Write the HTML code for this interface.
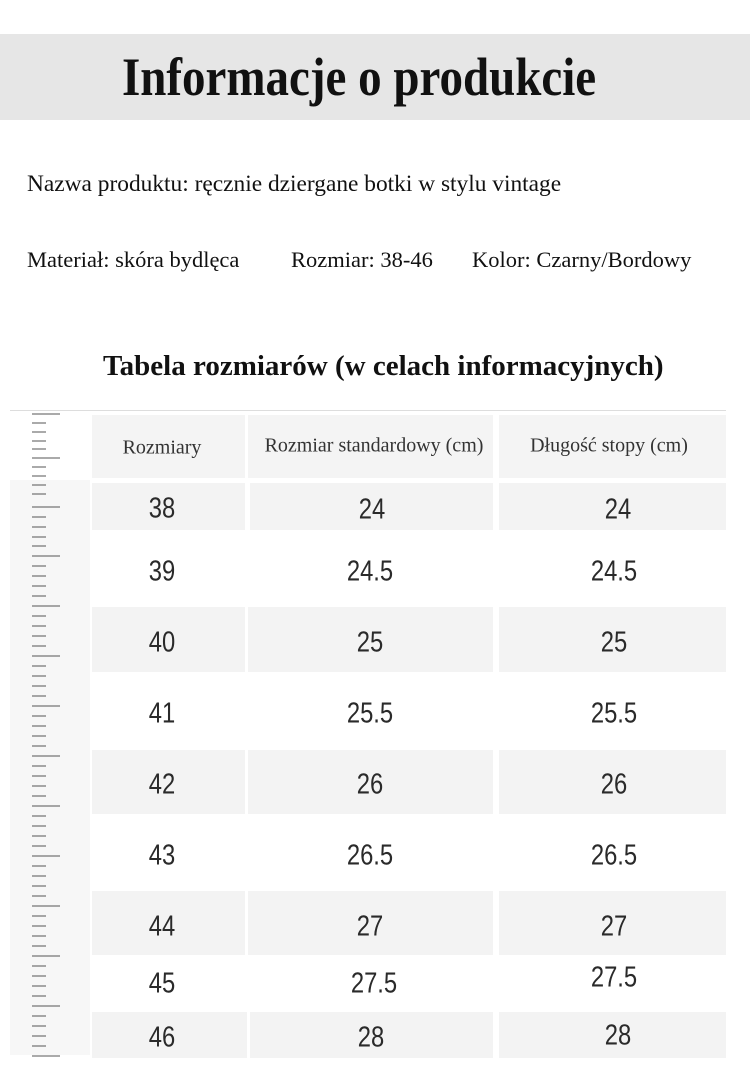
<!DOCTYPE html>
<html><head><meta charset="utf-8"><style>
body{margin:0;width:750px;height:1080px;background:#fff;position:relative;overflow:hidden;font-family:"Liberation Serif",serif;color:#111}
.a{position:absolute;white-space:nowrap}
.band{position:absolute;left:0;top:34px;width:750px;height:86px;background:#e6e6e6}
.cell{position:absolute;background:#f3f3f3}
.n{position:absolute;font-family:"Liberation Sans Narrow","Liberation Sans",sans-serif;font-size:29px;color:#2a2a2a;text-align:center;transform:translate(-50%,-50%) scaleX(0.82);white-space:nowrap}
.h{position:absolute;font-size:20px;color:#333;transform:translate(-50%,-50%);white-space:nowrap}
</style></head><body>
<div class="band"></div>
<div class="a" style="left:122px;top:46px;font-size:54px;font-weight:bold;transform-origin:0 0;transform:scaleX(0.87)">Informacje o produkcie</div>
<div class="a" style="left:27px;top:171px;font-size:23.4px">Nazwa produktu: ręcznie dziergane botki w stylu vintage</div>
<div class="a" style="left:27px;top:247px;font-size:22.5px">Materiał: skóra bydlęca</div>
<div class="a" style="left:291px;top:247px;font-size:22.5px">Rozmiar: 38-46</div>
<div class="a" style="left:472px;top:247px;font-size:22.5px">Kolor: Czarny/Bordowy</div>
<div class="a" style="left:103px;top:350px;font-size:29px;font-weight:bold">Tabela rozmiarów (w celach informacyjnych)</div>
<div style="position:absolute;left:10px;top:410px;width:716px;height:1px;background:#ddd"></div>
<div style="position:absolute;left:10px;top:480px;width:80px;height:575px;background:#f7f7f7"></div>
<div class="cell" style="left:92px;top:415px;width:153px;height:63px;background:#f4f4f4"></div>
<div class="cell" style="left:248px;top:415px;width:245px;height:63px;background:#f4f4f4"></div>
<div class="cell" style="left:499px;top:415px;width:227px;height:63px;background:#f4f4f4"></div>
<div class="h" style="left:162px;top:448px">Rozmiary</div>
<div class="h" style="left:374px;top:446px">Rozmiar standardowy (cm)</div>
<div class="h" style="left:609px;top:446px">Długość stopy (cm)</div>
<div class="cell" style="left:92px;top:483px;width:153px;height:47px"></div>
<div class="cell" style="left:250px;top:483px;width:243px;height:47px"></div>
<div class="cell" style="left:499px;top:483px;width:227px;height:47px"></div>
<div class="cell" style="left:92px;top:607px;width:153px;height:65px"></div>
<div class="cell" style="left:248px;top:607px;width:245px;height:65px"></div>
<div class="cell" style="left:499px;top:607px;width:227px;height:65px"></div>
<div class="cell" style="left:92px;top:750px;width:153px;height:64px"></div>
<div class="cell" style="left:248px;top:750px;width:245px;height:64px"></div>
<div class="cell" style="left:499px;top:750px;width:227px;height:64px"></div>
<div class="cell" style="left:92px;top:891px;width:153px;height:64px"></div>
<div class="cell" style="left:248px;top:891px;width:245px;height:64px"></div>
<div class="cell" style="left:499px;top:891px;width:227px;height:64px"></div>
<div class="cell" style="left:92px;top:1012px;width:155px;height:46px"></div>
<div class="cell" style="left:250px;top:1012px;width:243px;height:46px"></div>
<div class="cell" style="left:499px;top:1012px;width:227px;height:46px"></div>
<div class="n" style="left:162px;top:509px">38</div><div class="n" style="left:372px;top:510px">24</div><div class="n" style="left:618px;top:510px">24</div>
<div class="n" style="left:162px;top:572px">39</div><div class="n" style="left:370px;top:572px">24.5</div><div class="n" style="left:614px;top:572px">24.5</div>
<div class="n" style="left:162px;top:643px">40</div><div class="n" style="left:370px;top:643px">25</div><div class="n" style="left:614px;top:643px">25</div>
<div class="n" style="left:162px;top:714px">41</div><div class="n" style="left:370px;top:714px">25.5</div><div class="n" style="left:614px;top:714px">25.5</div>
<div class="n" style="left:162px;top:785px">42</div><div class="n" style="left:370px;top:785px">26</div><div class="n" style="left:614px;top:785px">26</div>
<div class="n" style="left:162px;top:856px">43</div><div class="n" style="left:370px;top:856px">26.5</div><div class="n" style="left:614px;top:856px">26.5</div>
<div class="n" style="left:162px;top:927px">44</div><div class="n" style="left:370px;top:927px">27</div><div class="n" style="left:614px;top:927px">27</div>
<div class="n" style="left:162px;top:984px">45</div><div class="n" style="left:374px;top:984px">27.5</div><div class="n" style="left:614px;top:978px">27.5</div>
<div class="n" style="left:162px;top:1038px">46</div><div class="n" style="left:371px;top:1038px">28</div><div class="n" style="left:618px;top:1036px">28</div>
<svg style="position:absolute;left:0;top:0" width="90" height="1080">
<g stroke="#555" stroke-width="1">
<line x1="32" y1="414" x2="60" y2="414"/><line x1="32" y1="423" x2="46" y2="423"/><line x1="32" y1="432" x2="46" y2="432"/><line x1="32" y1="441" x2="46" y2="441"/><line x1="32" y1="449" x2="46" y2="449"/><line x1="32" y1="458" x2="60" y2="458"/><line x1="32" y1="467" x2="46" y2="467"/><line x1="32" y1="476" x2="46" y2="476"/><line x1="32" y1="485" x2="46" y2="485"/><line x1="32" y1="494" x2="46" y2="494"/><line x1="32" y1="507" x2="60" y2="507"/><line x1="32" y1="517" x2="46" y2="517"/><line x1="32" y1="527" x2="46" y2="527"/><line x1="32" y1="537" x2="46" y2="537"/><line x1="32" y1="546" x2="46" y2="546"/><line x1="32" y1="556" x2="60" y2="556"/><line x1="32" y1="566" x2="46" y2="566"/><line x1="32" y1="576" x2="46" y2="576"/><line x1="32" y1="586" x2="46" y2="586"/><line x1="32" y1="596" x2="46" y2="596"/><line x1="32" y1="606" x2="60" y2="606"/><line x1="32" y1="616" x2="46" y2="616"/><line x1="32" y1="626" x2="46" y2="626"/><line x1="32" y1="636" x2="46" y2="636"/><line x1="32" y1="646" x2="46" y2="646"/><line x1="32" y1="656" x2="60" y2="656"/><line x1="32" y1="666" x2="46" y2="666"/><line x1="32" y1="676" x2="46" y2="676"/><line x1="32" y1="686" x2="46" y2="686"/><line x1="32" y1="696" x2="46" y2="696"/><line x1="32" y1="706" x2="60" y2="706"/><line x1="32" y1="716" x2="46" y2="716"/><line x1="32" y1="726" x2="46" y2="726"/><line x1="32" y1="736" x2="46" y2="736"/><line x1="32" y1="746" x2="46" y2="746"/><line x1="32" y1="756" x2="60" y2="756"/><line x1="32" y1="766" x2="46" y2="766"/><line x1="32" y1="776" x2="46" y2="776"/><line x1="32" y1="786" x2="46" y2="786"/><line x1="32" y1="796" x2="46" y2="796"/><line x1="32" y1="806" x2="60" y2="806"/><line x1="32" y1="816" x2="46" y2="816"/><line x1="32" y1="826" x2="46" y2="826"/><line x1="32" y1="836" x2="46" y2="836"/><line x1="32" y1="846" x2="46" y2="846"/><line x1="32" y1="856" x2="60" y2="856"/><line x1="32" y1="866" x2="46" y2="866"/><line x1="32" y1="876" x2="46" y2="876"/><line x1="32" y1="886" x2="46" y2="886"/><line x1="32" y1="896" x2="46" y2="896"/><line x1="32" y1="906" x2="60" y2="906"/><line x1="32" y1="916" x2="46" y2="916"/><line x1="32" y1="926" x2="46" y2="926"/><line x1="32" y1="936" x2="46" y2="936"/><line x1="32" y1="946" x2="46" y2="946"/><line x1="32" y1="956" x2="60" y2="956"/><line x1="32" y1="966" x2="46" y2="966"/><line x1="32" y1="976" x2="46" y2="976"/><line x1="32" y1="986" x2="46" y2="986"/><line x1="32" y1="996" x2="46" y2="996"/><line x1="32" y1="1006" x2="60" y2="1006"/><line x1="32" y1="1016" x2="46" y2="1016"/><line x1="32" y1="1026" x2="46" y2="1026"/><line x1="32" y1="1036" x2="46" y2="1036"/><line x1="32" y1="1046" x2="46" y2="1046"/><line x1="32" y1="1056" x2="60" y2="1056"/>
</g></svg>
</body></html>
